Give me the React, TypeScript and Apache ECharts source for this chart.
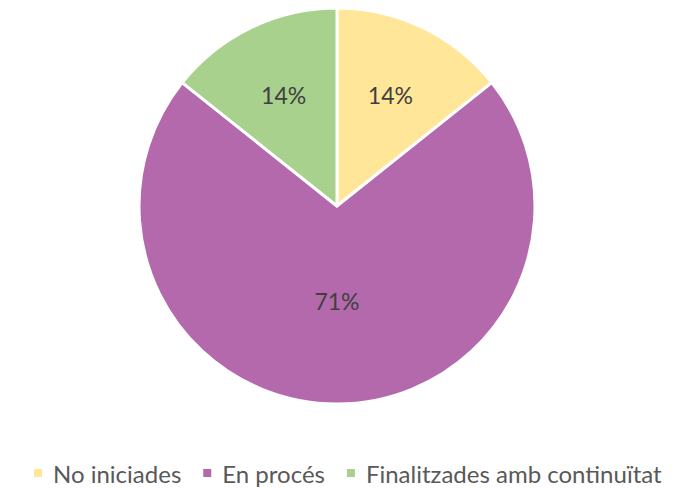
import React, { useEffect, useRef } from "react";
import * as echarts from "echarts";

const categories = ["No iniciades", "En procés", "Finalitzades amb continuïtat"];
const values = [1, 5, 1];
const colors = ["#FFE699", "#B469AC", "#A9D18E"];

const FONT = "Lato, 'Open Sans', sans-serif";

export default function App() {
  const ref = useRef<HTMLDivElement>(null);
  useEffect(() => {
    if (!ref.current) return;
    const chart = echarts.init(ref.current, undefined, { renderer: "svg" });
    const data = categories.map((name, i) => ({
      name,
      value: values[i],
      itemStyle: { color: colors[i] },
    }));
    const labelFmt = (p: any) => Math.round(p.percent) + "%";
    const labelStyle = { color: "#404040", fontSize: 23, fontFamily: FONT };
    chart.setOption({
      animation: false,
      backgroundColor: "#ffffff",
      legend: {
        top: 456,
        left: 27,
        itemWidth: 10,
        itemHeight: 10,
        itemGap: 20,
        icon: "rect",
        textStyle: {
          color: "#595959",
          fontSize: 24,
          fontFamily: FONT,
          padding: [0, 0, 0, 5],
        },
        data: categories,
      },
      series: [
        {
          type: "pie",
          center: [337, 206],
          radius: [0, 198],
          startAngle: 90,
          clockwise: true,
          data,
          label: { show: false },
          labelLine: { show: false },
          itemStyle: { borderColor: "#ffffff", borderWidth: 3 },
          emphasis: { disabled: true },
        },
        {
          type: "pie",
          center: [337, 206],
          radius: [0, 240],
          startAngle: 90,
          clockwise: true,
          silent: true,
          legendHoverLink: false,
          data: data.map((d, i) => ({
            name: d.name,
            value: d.value,
            itemStyle: { color: "transparent" },
            label: { show: i !== 1 },
          })),
          label: { position: "inside", formatter: labelFmt, ...labelStyle },
          labelLine: { show: false },
          emphasis: { disabled: true },
          tooltip: { show: false },
        },
        {
          type: "pie",
          center: [337, 206],
          radius: [0, 184],
          startAngle: 90,
          clockwise: true,
          silent: true,
          legendHoverLink: false,
          data: data.map((d, i) => ({
            name: d.name,
            value: d.value,
            itemStyle: { color: "transparent" },
            label: { show: i === 1 },
          })),
          label: { position: "inside", formatter: labelFmt, ...labelStyle },
          labelLine: { show: false },
          emphasis: { disabled: true },
        },
      ],
    });
    return () => chart.dispose();
  }, []);
  return (
    <div
      ref={ref}
      style={{ position: "fixed", left: 0, top: 0, width: 698, height: 488 }}
    />
  );
}
